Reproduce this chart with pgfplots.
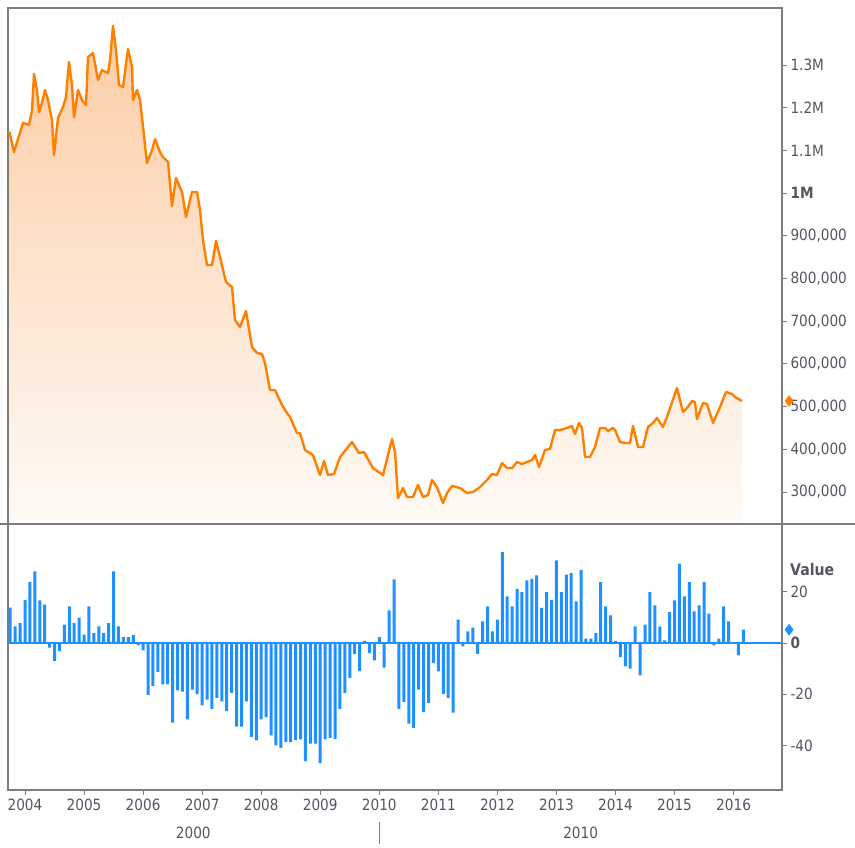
\documentclass[border=0pt]{standalone}
\usepackage{fontspec}
\setmainfont{DejaVu Sans}[FakeStretch=0.88]
\usepackage{pgfplots}
\usepackage{pgfplotstable}
\pgfplotsset{compat=1.18}
\definecolor{lineor}{RGB}{255,128,0}
\definecolor{barblue}{RGB}{30,144,255}
\definecolor{framegray}{RGB}{125,125,125}
\definecolor{txtgray}{RGB}{85,85,98}
\definecolor{filltop}{RGB}{252,205,165}
\definecolor{fillbot}{RGB}{255,250,246}

\pgfplotstableread{
yr v
2003.734 1143800
2003.814 1096300
2003.966 1164200
2004.068 1159500
2004.119 1194600
2004.152 1279000
2004.203 1241500
2004.237 1190000
2004.288 1211000
2004.339 1241500
2004.390 1218000
2004.457 1171000
2004.491 1089000
2004.559 1176000
2004.644 1201700
2004.694 1225000
2004.745 1307000
2004.796 1253000
2004.830 1178000
2004.898 1241500
2004.965 1218000
2005.033 1206000
2005.067 1318800
2005.152 1328000
2005.236 1265000
2005.304 1288000
2005.406 1281000
2005.440 1311700
2005.490 1391400
2005.541 1335000
2005.592 1253000
2005.660 1248500
2005.744 1337500
2005.812 1295000
2005.829 1218000
2005.897 1241500
2005.948 1218000
2006.066 1070500
2006.152 1101000
2006.202 1126700
2006.286 1096000
2006.337 1084600
2006.422 1072900
2006.489 969800
2006.557 1035400
2006.659 1002600
2006.726 944000
2006.828 1002600
2006.913 1002600
2006.964 960400
2007.014 890200
2007.082 831600
2007.167 831600
2007.235 887800
2007.302 850400
2007.404 791800
2007.506 780000
2007.556 702800
2007.641 686400
2007.743 723900
2007.844 639600
2007.929 625500
2008.014 623200
2008.064 602000
2008.149 538900
2008.234 538900
2008.352 503800
2008.437 485000
2008.488 475700
2008.606 438200
2008.657 438200
2008.742 398400
2008.877 386700
2008.996 339800
2009.064 372600
2009.131 339800
2009.233 342200
2009.335 382000
2009.538 417100
2009.656 391300
2009.741 393700
2009.893 356200
2010.063 339800
2010.147 386700
2010.215 424100
2010.266 393700
2010.317 286000
2010.401 309400
2010.469 288300
2010.571 288300
2010.655 316400
2010.740 288300
2010.825 293000
2010.892 328100
2010.977 311700
2011.079 274200
2011.147 297700
2011.231 314100
2011.367 309400
2011.485 297700
2011.587 300000
2011.706 311700
2011.824 328100
2011.909 342200
2011.993 339800
2012.078 367900
2012.163 356200
2012.247 356200
2012.332 370300
2012.417 365600
2012.501 370300
2012.586 374900
2012.637 386700
2012.705 358600
2012.806 398400
2012.891 400700
2012.976 445200
2013.060 445200
2013.179 449900
2013.263 454600
2013.314 435800
2013.382 461600
2013.433 449900
2013.484 382000
2013.568 382000
2013.653 405400
2013.738 449900
2013.822 449900
2013.873 442900
2013.958 449900
2013.992 445200
2014.076 417100
2014.161 414800
2014.246 414800
2014.296 454600
2014.381 405400
2014.466 405400
2014.550 452200
2014.635 461600
2014.703 473300
2014.804 452200
2014.872 475700
2015.041 543600
2015.143 487400
2015.211 496700
2015.296 513100
2015.346 510800
2015.380 471000
2015.482 508400
2015.550 506100
2015.652 461600
2015.770 499100
2015.872 534200
2015.973 529500
2016.024 522500
2016.142 513100
}\linedata

\pgfplotstableread{
v
13.8
6.5
7.8
16.9
23.8
28
16.7
15
-1.8
-7
-3.1
7.2
14.3
7.8
9.9
3.3
14.3
3.9
6.5
3.9
7.8
28
6.5
2.3
2.3
3.1
-0.9
-2.9
-20.2
-16.7
-11.3
-16.1
-16.1
-31.1
-18.5
-19
-29.8
-18.2
-20
-24.3
-22.1
-25.7
-21.4
-22.8
-26.6
-19.5
-32.6
-32.6
-22.8
-36.7
-38
-29.8
-28.9
-36.1
-40
-40.9
-38.7
-38.7
-37.8
-37.6
-46.1
-39.3
-39.3
-46.9
-37.6
-37
-37.4
-25.7
-19.5
-13.7
-4.2
-10.9
0.8
-3.9
-6.8
2.3
-9.6
12.8
24.9
-25.7
-23
-31.5
-33.1
-18.2
-27
-23.4
-7.8
-11.1
-20
-21.4
-27.2
9.1
-1.3
4.6
6
-4.2
8.5
14.3
4.6
9.1
35.5
18.2
14.3
21.2
19.9
24.5
25.1
26.4
13.7
19.9
16.9
32.3
19.9
26.7
27.3
16.3
28.6
1.7
1.7
3.9
23.8
14.3
10.8
0.8
-5.5
-9.1
-10
6.5
-12.6
7.2
19.9
14.7
6.5
1
12.1
16.7
31
18.2
23.8
12.4
14.7
23.8
11.5
-0.9
1.7
14.3
8.5
0
-4.8
5.2
}\bardata

\pgfplotsset{
  panel/.style={
    scale only axis, width=774pt,
    xmin=2003.712, xmax=2016.82,
    axis line style={framegray, line width=1.1pt},
    tick style={framegray, line width=0.9pt},
    tick align=outside, major tick length=5pt,
    ticklabel style={font=\fontsize{15.5}{17}\selectfont, text=txtgray},
    yticklabel pos=right, ytick pos=right,
    scaled y ticks=false,
  }
}

\begin{document}
\begin{tikzpicture}
\path[use as bounding box] (0pt,0pt) rectangle (855pt,848pt);

% top panel
\begin{axis}[panel, at={(8pt,324pt)}, anchor=south west, height=516pt,
  ymin=225100, ymax=1433500, xtick=\empty, clip=true,
  ytick={300000,400000,500000,600000,700000,800000,900000,1000000,1100000,1200000,1300000},
  yticklabels={{300,000},{400,000},{500,000},{600,000},{700,000},{800,000},{900,000},{\textbf{1M}},{1.1M},{1.2M},{1.3M}},
]
\addplot[draw=none, top color=filltop, bottom color=fillbot]
  table[x=yr, y=v] {\linedata}
  -- (axis cs:2016.142,225100) -- (axis cs:2003.734,225100) -- cycle;
\addplot[lineor, line width=2.4pt, mark=none, line join=round] table[x=yr, y=v] {\linedata};
\end{axis}
\begin{axis}[panel, at={(8pt,324pt)}, anchor=south west, height=516pt,
  ymin=225100, ymax=1433500, xtick=\empty, ytick=\empty, clip=false, axis lines=none]
\addplot[only marks, mark=diamond*, mark size=5.5pt, color=lineor] coordinates {(2016.94,513100)};
\end{axis}

% bottom panel
\begin{axis}[panel, at={(8pt,58pt)}, anchor=south west, height=266pt,
  ymin=-57.4, ymax=46.5, clip=false,
  xtick={2004,2005,2006,2007,2008,2009,2010,2011,2012,2013,2014,2015,2016},
  xticklabels={2004,2005,2006,2007,2008,2009,2010,2011,2012,2013,2014,2015,2016},
  xtick pos=bottom,
  ytick={-40,-20,0,20},
  yticklabels={-40,-20,\textbf{0},20},
]
\addplot[ybar, bar width=3pt, bar shift=0pt, fill=barblue, draw=none]
  table[x expr=2003.75+\coordindex/12, y=v] {\bardata};
\addplot[barblue, line width=1.2pt, mark=none] coordinates {(2003.712,0) (2016.82,0)};
\addplot[only marks, mark=diamond*, mark size=5.5pt, color=barblue] coordinates {(2016.94,5.2)};
\node[anchor=west, inner sep=0pt, text=txtgray, font=\fontsize{16}{18}\selectfont\bfseries] at (rel axis cs:1,0.827) [xshift=8pt] {Value};
\node[text=txtgray, font=\fontsize{15.5}{17}\selectfont] at (axis cs:2006.85,-57.4) [yshift=-43pt] {2000};
\node[text=txtgray, font=\fontsize{15.5}{17}\selectfont] at (axis cs:2013.41,-57.4) [yshift=-43pt] {2010};
\draw[framegray, line width=0.9pt] (axis cs:2010,-57.4) ++(0pt,-32pt) -- ++(0pt,-22pt);
\end{axis}

\draw[framegray, line width=1.1pt] (0pt,324pt) -- (855pt,324pt);
\end{tikzpicture}
\end{document}
